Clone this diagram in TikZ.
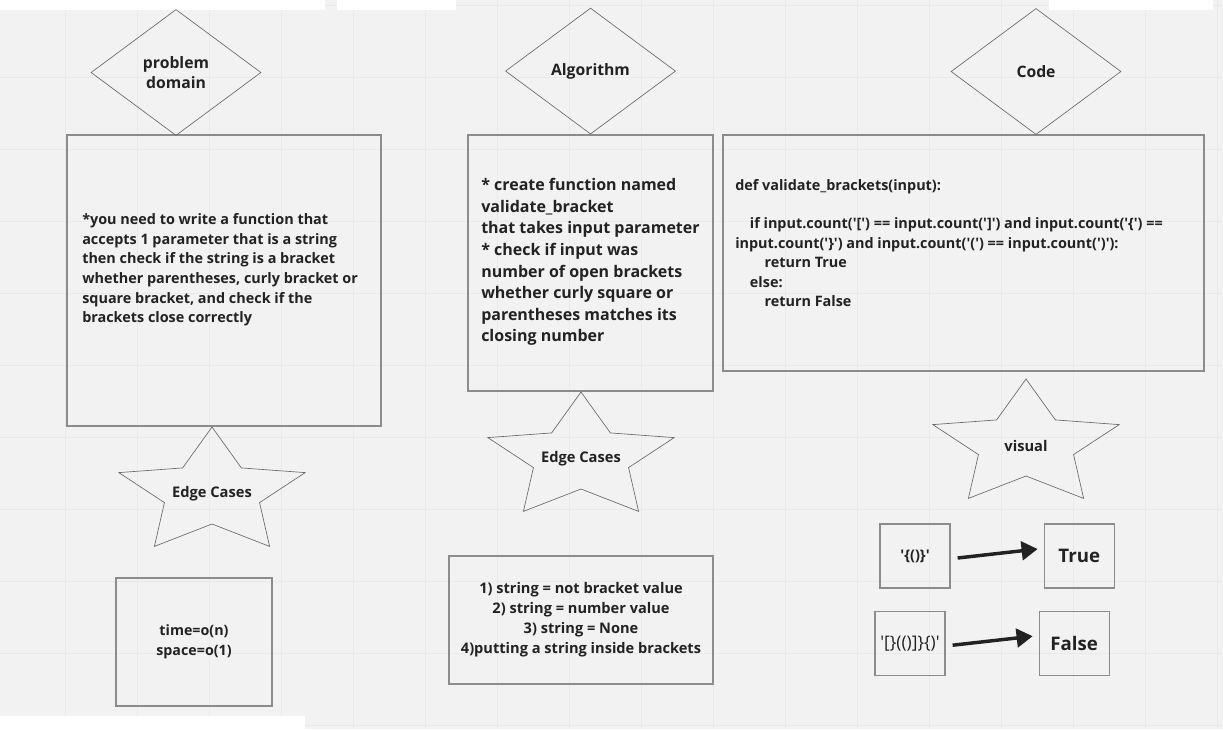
\documentclass[tikz,border=0pt]{standalone}
\usepackage{fontspec}
\setmainfont{Open Sans}[Ligatures=TeXOff]
\usepackage{xcolor}
\usetikzlibrary{positioning}
\usetikzlibrary{arrows.meta}
\usetikzlibrary{shapes}

\definecolor{board}{HTML}{F2F2F2}
\definecolor{gridline}{HTML}{EAEAEA}
\definecolor{boxline}{HTML}{8C8C8C}
\definecolor{shapeline}{HTML}{6A6A6A}
\definecolor{ink}{HTML}{222222}

\tikzset{
    box/.style={draw=boxline, line width=0.9pt, rectangle, inner sep=0pt},
    dia/.style={draw=shapeline, line width=0.5pt, diamond, inner sep=0pt,
        minimum width=127.5pt, minimum height=94.5pt, text=ink, align=center,
        font=\bfseries\fontsize{11.8}{15.5}\selectfont},
    starline/.style={draw=shapeline, line width=0.5pt},
    txt/.style={text=ink, inner sep=0pt, font=\bfseries\fontsize{10.8}{14.7}\selectfont},
    fat/.style={ink, line width=2.6pt, -{Triangle[length=12pt,width=14pt]}}
}

\begin{document}
\begin{tikzpicture}[x=0.75pt, y=-0.75pt]
    \useasboundingbox (0,0) rectangle (1223,729);
    % the board behind
    \fill[board] (0,0) rectangle (1223,729);
    \foreach \gx in {65,137,...,1217} \draw[gridline, line width=0.5pt] (\gx,0) -- (\gx,729);
    \foreach \gy in {5,77,...,725} \draw[gridline, line width=0.5pt] (0,\gy) -- (1223,\gy);
    \fill[white] (0,0) rectangle (325,10);
    \fill[white] (337,0) rectangle (456,10);
    \fill[white] (1049,0) rectangle (1213,10);
    \fill[white] (0,716) rectangle (305,729);

    % set up the nodes
    \node[box, minimum width=235.5pt, minimum height=218.25pt] (B1) at (224,280.5) {};
    \node[box, minimum width=183.75pt, minimum height=192pt] (B2) at (590.5,263) {};
    \node[box, minimum width=360.75pt, minimum height=177pt] (B3) at (963.5,253) {};

    \node[dia] (D1) at (176,72.5) {problem\\domain};
    \node[dia, above=0pt of B2] (D2) {Algorithm};
    \node[dia] (D3) at (1036,71.5) {Code};

    \node[txt, anchor=west, align=left] (T1) at (82,270) {
        *you need to write a function that\\
        accepts 1 parameter that is a string\\
        then check if the string is a bracket\\
        whether parentheses, curly bracket or\\
        square bracket, and check if the\\
        brackets close correctly
    };
    \node[txt, anchor=west, align=left, font=\bfseries\fontsize{12}{16.2}\selectfont] (T2) at (481,262) {
        * create function named\\
        validate\_bracket\\
        that takes input parameter\\
        * check if input was\\
        number of open brackets\\
        whether curly square or\\
        parentheses matches its\\
        closing number
    };
    \node[txt, anchor=west, align=left, font=\bfseries\fontsize{10.8}{14.6}\selectfont] (T3) at (735,243) {
        def validate\_brackets(input):\\[14.6pt]
        \hspace*{11pt}if input.count('[') == input.count(']') and input.count('\{') ==\\
        input.count('\}') and input.count('(') == input.count(')'):\\
        \hspace*{22pt}return True\\
        \hspace*{11pt}else:\\
        \hspace*{22pt}return False
    };

    \coordinate (S1) at (212,493);
    \coordinate (S2) at (581,458);
    \coordinate (S3) at (1026,445);
    \node[txt, font=\bfseries\fontsize{11}{13}\selectfont] (L1) at (212,494) {Edge Cases};
    \node[txt, font=\bfseries\fontsize{11}{13}\selectfont] (L2) at (581,459) {Edge Cases};
    \node[txt, font=\bfseries\fontsize{11}{13}\selectfont] (L3) at (1026,446) {visual};

    \node[box, minimum width=117pt, minimum height=96pt, txt, align=center,
        font=\bfseries\fontsize{10.7}{15}\selectfont] (E1) at (194,642) {time=o(n)\\space=o(1)};
    \node[box, minimum width=198pt, minimum height=96pt, txt, align=center,
        font=\bfseries\fontsize{10.95}{15}\selectfont] (E2) at (581,620) {
        1) string = not bracket value\\
        2) string = number value\\
        3) string = None\\
        4)putting a string inside brackets
    };

    \node[box, minimum width=52.5pt, minimum height=48pt, txt,
        font=\bfseries\fontsize{11}{13}\selectfont] (In1) at (915,556) {'\{()\}'};
    \node[box, minimum width=52.5pt, minimum height=48pt, txt,
        font=\bfseries\fontsize{14}{16}\selectfont, right=69.75pt of In1] (Out1) {True};
    \node[box, minimum width=52.5pt, minimum height=48pt, txt,
        font=\fontsize{13}{15}\selectfont, below=16.5pt of In1, xshift=-3.75pt] (In2) {'[\}(()]\}\{)'};
    \node[box, minimum width=52.5pt, minimum height=48pt, txt,
        font=\bfseries\fontsize{14}{16}\selectfont, right=69.75pt of In2] (Out2) {False};

    % the stars
    \draw[starline, shift={(S1)}] (270:98 and 66) \foreach \a/\rx/\ry in {306/50/31,342/98/66,18/50/31,54/98/66,90/50/31,126/98/66,162/50/31,198/98/66,234/50/31} {-- (\a:{\rx} and {\ry})} -- cycle;
    \draw[starline, shift={(S2)}] (270:98 and 66) \foreach \a/\rx/\ry in {306/50/31,342/98/66,18/50/31,54/98/66,90/50/31,126/98/66,162/50/31,198/98/66,234/50/31} {-- (\a:{\rx} and {\ry})} -- cycle;
    \draw[starline, shift={(S3)}] (270:98 and 66) \foreach \a/\rx/\ry in {306/50/31,342/98/66,18/50/31,54/98/66,90/50/31,126/98/66,162/50/31,198/98/66,234/50/31} {-- (\a:{\rx} and {\ry})} -- cycle;

    % draw arrows between them
    \draw[fat] ([shift={(7,2)}]In1.east) -- ([shift={(-6,-7)}]Out1.west);
    \draw[fat] ([shift={(7,2)}]In2.east) -- ([shift={(-6,-7)}]Out2.west);
\end{tikzpicture}
\end{document}
